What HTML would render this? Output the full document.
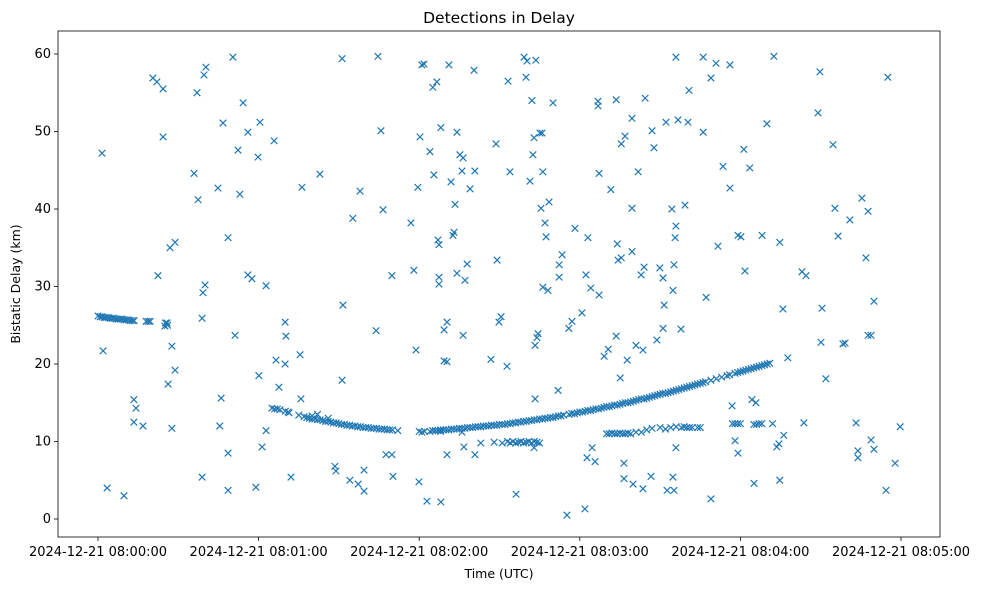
<!DOCTYPE html>
<html><head><meta charset="utf-8"><style>
html,body{margin:0;padding:0;background:#fff;}
svg{display:block;font-family:"DejaVu Sans","Liberation Sans",sans-serif;}
</style></head><body>
<svg id="chart" width="985" height="590" viewBox="0 0 985 590">
<rect x="0" y="0" width="985" height="590" fill="#fff"/>
<text x="499" y="23" font-size="15.5" text-anchor="middle" fill="#000">Detections in Delay</text>
<g id="plot"></g>
<text x="499" y="578" font-size="12.5" text-anchor="middle">Time (UTC)</text>
<text x="20" y="284" font-size="12.5" text-anchor="middle" transform="rotate(-90 20 284)">Bistatic Delay (km)</text>
</svg>
<script>
// seconds after 2024-12-21 08:00:00
const noiseT=[1.5,1.9,3.4,9.7,13.4,14.2,13.4,16.8,20.5,22,24.3,24.3,22.4,25.8,25,26.9,28.8,27.6,28.8,26.2,27.6,35.9,37.4,37,39.6,40.3,40,39.2,38.9,38.9,44.8,46.7,46,45.5,48.6,48.6,48.6,50.4,51.2,52.3,53,54.2,56,56,57.5,59.8,60.5,59,60.1,61.3,62.8,62.8,65.8,66.5,67.6,69.9,70.2,72.1,71.4,69.9,75.5,76.2,75.8,82.9,91.2,91.5,91.2,88.9,88.5,94.1,95.2,97.9,97.2,99.4,99.4,103.9,104.6,105.7,106.5,109.8,110.2,107.6,109.8,116.9,118,118.8,119.5,120.3,119.9,121,121.8,122.9,124,125.5,125.1,126.6,127.4,127,127.4,127.4,128.1,128.1,129.3,129.3,130.4,130.4,131.1,130.4,131.9,132.6,133,133.4,134.1,134.1,135.2,136,136.4,136.4,136.7,137.9,137.1,139,140.5,140.8,140.8,146.8,148.7,149.1,149.8,150.6,152.8,153.2,153.9,156.2,159.2,159.9,160.3,161.4,162.1,162.5,162.9,163.3,163.3,162.9,163.6,164,164.4,165.1,165.9,165.5,166.2,166.2,167,167.4,168.1,168.5,170,171.9,172.3,172.3,173.4,175.2,175.9,177.1,178.2,180.8,181.9,182.3,182.7,183,184.1,184.6,185.7,186.8,186.8,187.2,187.2,189.1,190.6,191.6,193.6,193.6,194,194.3,195.1,195.5,195.5,196.5,196.9,196.5,197.7,199.5,199.5,199.5,199.9,201,201.8,202.9,203.6,204.4,204,203.6,206.6,207,207.7,208.8,209.9,211.1,211.5,211.1,212.2,212.6,214.4,214.8,215.2,215.6,215.9,215.9,216.7,215.9,214.8,215.2,217.8,219.3,220.4,220.8,226.1,226.1,227.2,229,229,230.9,231.6,233.5,236.1,236.1,236.9,238,239.1,239.1,240.2,241.3,241.7,243.5,244.3,245.1,245.8,248.1,249.9,252.5,253.6,254.4,254.7,254.7,255.9,256.2,257.7,263,264.5,263.7,269,269.7,270.5,270.1,271.9,274.6,275.3,276.5,278.3,279.1,280.9,283.2,283.9,283.9,285.4,286.9,287.7,287.7,288.8,288.8,289.9,289.9,294.4,295.1,297.8,299.7];
const noiseD=[47.2,21.7,4.0,3.0,15.4,14.3,12.5,12.0,56.9,56.4,55.5,49.3,31.4,25.3,24.9,35,35.7,22.3,19.2,17.4,11.7,44.6,41.2,55,57.3,58.3,30.2,29.2,25.9,5.4,42.7,51.1,15.6,12.0,36.3,8.5,3.7,59.6,23.7,47.6,41.9,53.7,49.9,31.5,31,46.7,51.2,4.1,18.5,9.3,11.4,30.1,48.8,20.5,17.0,25.4,23.6,5.4,13.7,20.0,21.2,42.8,15.5,44.5,59.4,27.6,17.9,6.2,6.8,5.0,38.8,42.3,4.5,6.3,3.6,24.3,59.7,50.1,39.9,31.4,5.5,8.3,8.3,38.2,32.1,21.8,42.8,49.3,4.8,58.6,58.7,2.3,47.4,44.4,55.7,56.4,35.4,36,31.2,30.3,50.5,2.2,24.4,20.4,20.3,8.3,58.6,25.4,43.5,36.6,37,40.6,49.9,31.7,47,44.9,46.6,23.7,9.3,32.9,30.8,42.6,57.9,8.3,44.9,20.6,48.4,33.4,25.4,26.1,19.7,56.5,44.8,3.2,59.6,57,59.1,43.6,54,47,49.2,22.4,15.5,9.2,59.2,23.4,23.9,49.8,49.8,40.1,44.8,29.9,38.2,36.4,29.5,40.9,53.7,16.6,32.8,31.2,34.1,0.5,24.6,25.5,37.5,26.6,1.3,31.5,7.9,36.3,29.8,9.2,7.4,53.9,53.3,28.9,44.6,21,21.9,42.5,54.1,23.6,35.5,33.4,18.2,48.4,33.7,7.2,49.4,5.2,20.5,34.5,51.7,40.1,4.5,22.4,44.8,31.5,3.9,54.3,32.5,21.8,5.5,50.1,47.9,23.1,32.4,31.1,27.6,24.6,51.2,3.7,40,29.5,32.8,36.3,37.8,59.6,51.5,9.2,5.4,3.7,24.5,40.5,51.2,55.3,49.9,59.6,28.6,56.9,2.6,58.8,35.2,45.5,58.6,42.7,14.6,10.1,8.5,36.6,36.4,47.7,32,45.3,15.4,4.6,15,36.6,51,59.7,9.3,9.7,35.7,5,27.1,10.8,20.8,31.9,31.4,12.4,52.4,57.7,27.2,22.8,18.1,48.3,40.1,36.5,22.6,22.7,38.6,12.4,8.8,7.9,41.4,33.7,39.7,23.7,23.7,10.2,28.1,9,3.7,57,7.2,11.9];
const trackAT=[0,0.8,1.5,2.3,3.0,3.8,4.5,5.3,6.0,6.8,7.5,8.3,9.0,9.8,10.5,11.3,12.0,12.8,13.5,18.0,18.8,19.5,25.2,26.0];
const trackAD=[26.2,26.1,26.1,26.0,26.0,26.0,25.9,25.9,25.9,25.8,25.8,25.8,25.8,25.7,25.7,25.7,25.6,25.6,25.6,25.5,25.5,25.5,25.3,25.0];
const trackBT=[65,66,67,68,70,71,75,77,78,79,80,81,82,83,84,85,86,87,88,89,90,91,92,93,94,95,96,97,98,99,100,101,102,103,104,105,106,107,108,109,110,80,82,86,112,120,121];
const trackBD=[14.3,14.2,14.2,14.1,13.9,13.8,13.4,13.2,13.1,13.0,12.9,12.9,12.8,12.8,12.7,12.6,12.6,12.5,12.4,12.4,12.3,12.2,12.2,12.1,12.1,12.0,12.0,11.9,11.9,11.8,11.8,11.8,11.7,11.7,11.7,11.6,11.6,11.6,11.5,11.5,11.5,13.3,13.5,13.0,11.4,11.3,11.2];
const trackCT=[122,124,125,126,127,128,129,130,131,132,133,134,135,136,137,138,139,140,141,142,143,144,145,146,147,148,149,150,151,152,153,154,155,156,157,158,159,160,161,162,163,164,165,166,167,168,169,170,171,172,173,174,176,177,178,179,180,181,182,183,184,185,186,187,188,189,190,191,192,193,194,195,196,197,198,199,200,201,202,203,204,205,206,207,208,209,210,211,212,213,214,215,216,217,218,219,220,221,222,223,224,225,226,227,229,231,233,235,236,238,239,240,241,242,243,244,245,246,247,248,249,250,251];
const trackCD=[11.3,11.3,11.4,11.4,11.4,11.5,11.5,11.5,11.5,11.6,11.6,11.6,11.7,11.7,11.7,11.8,11.8,11.8,11.9,11.9,11.9,12.0,12.0,12.0,12.1,12.1,12.1,12.2,12.2,12.2,12.3,12.3,12.4,12.4,12.5,12.5,12.6,12.6,12.7,12.7,12.8,12.8,12.9,12.9,13.0,13.0,13.1,13.1,13.2,13.3,13.3,13.4,13.5,13.6,13.6,13.7,13.8,13.8,13.9,14.0,14.0,14.1,14.2,14.2,14.3,14.4,14.5,14.5,14.6,14.7,14.7,14.8,14.9,15.0,15.0,15.1,15.2,15.3,15.4,15.5,15.5,15.6,15.7,15.8,15.9,16.0,16.1,16.2,16.2,16.3,16.4,16.5,16.6,16.7,16.8,16.9,17.0,17.1,17.2,17.3,17.4,17.5,17.6,17.7,17.9,18.1,18.3,18.5,18.6,18.8,18.9,19.0,19.1,19.2,19.3,19.4,19.5,19.6,19.7,19.8,19.9,20.0,20.1];
const clusterT=[143,148,151,153,154,155,156,157,158,159,160,161,162,163,164,165,190,191,192,193,194,195,196,197,198,199,201,203,205,207,210,212,214,216,218,219,220,221,222,224,225,237,238,239,240,245,246,247,248,252,136,126,128];
const clusterD=[9.8,9.9,9.8,10.0,9.8,10.0,9.8,9.9,10.0,9.8,9.9,10.0,9.8,10.0,9.9,9.8,11.0,11.0,11.1,11.0,11.0,11.1,11.0,11.0,11.1,11.0,11.2,11.2,11.5,11.7,11.8,11.6,11.8,11.9,11.8,11.9,11.8,11.8,11.8,11.8,11.8,12.3,12.3,12.3,12.3,12.2,12.2,12.3,12.3,12.3,11.2,11.4,11.3];
const yTicks=[0,10,20,30,40,50,60];
const xTicks=[0,60,120,180,240,300];
const xTickLabels=["2024-12-21 08:00:00","2024-12-21 08:01:00","2024-12-21 08:02:00","2024-12-21 08:03:00","2024-12-21 08:04:00","2024-12-21 08:05:00"];

const L=58,R=940,T=31,B=537;
function xs(t){return 98+(t/300)*(901-98);}
function ys(d){return 519-(d/60)*(519-54);}
const NS="http://www.w3.org/2000/svg";
const plot=document.getElementById('plot');
function mk(tag,attrs,parent){const e=document.createElementNS(NS,tag);for(const k in attrs)e.setAttribute(k,attrs[k]);(parent||plot).appendChild(e);return e;}

const pts=mk('g',{stroke:'#1f77b4','stroke-width':'1.2',fill:'none'});


function drawSeries(T_,D_,name){
  for(let i=0;i<T_.length;i++){
    const x=xs(T_[i]),y=ys(D_[i]),s=3.3;
    const p=mk('path',{d:`M${x-s},${y-s}L${x+s},${y+s}M${x-s},${y+s}L${x+s},${y-s}`},pts);
    
    
  }
}
drawSeries(noiseT,noiseD,'detection-marker');
drawSeries(trackAT,trackAD,'track-marker');
drawSeries(trackBT,trackBD,'track-marker');
drawSeries(trackCT,trackCD,'track-marker');
drawSeries(clusterT,clusterD,'cluster-marker');

const frame=mk('rect',{x:L,y:T,width:R-L,height:B-T,fill:'none',stroke:'#000','stroke-width':'0.8'});



yTicks.forEach(v=>{
  const y=ys(v);
  const l=mk('line',{x1:L-4,x2:L,y1:y,y2:y,stroke:'#000','stroke-width':'0.8'});
  
  
  const t=mk('text',{x:L-7,y:y+4,'font-size':'13','text-anchor':'end'});
  t.textContent=v;
  
  
});
xTicks.forEach((v,i)=>{
  const x=xs(v);
  const l=mk('line',{x1:x,x2:x,y1:B,y2:B+4,stroke:'#000','stroke-width':'0.8'});
  
  
  const t=mk('text',{x:x,y:B+19,'font-size':'13','text-anchor':'middle'});
  t.textContent=xTickLabels[i];
  
  
});
</script>
</body></html>
